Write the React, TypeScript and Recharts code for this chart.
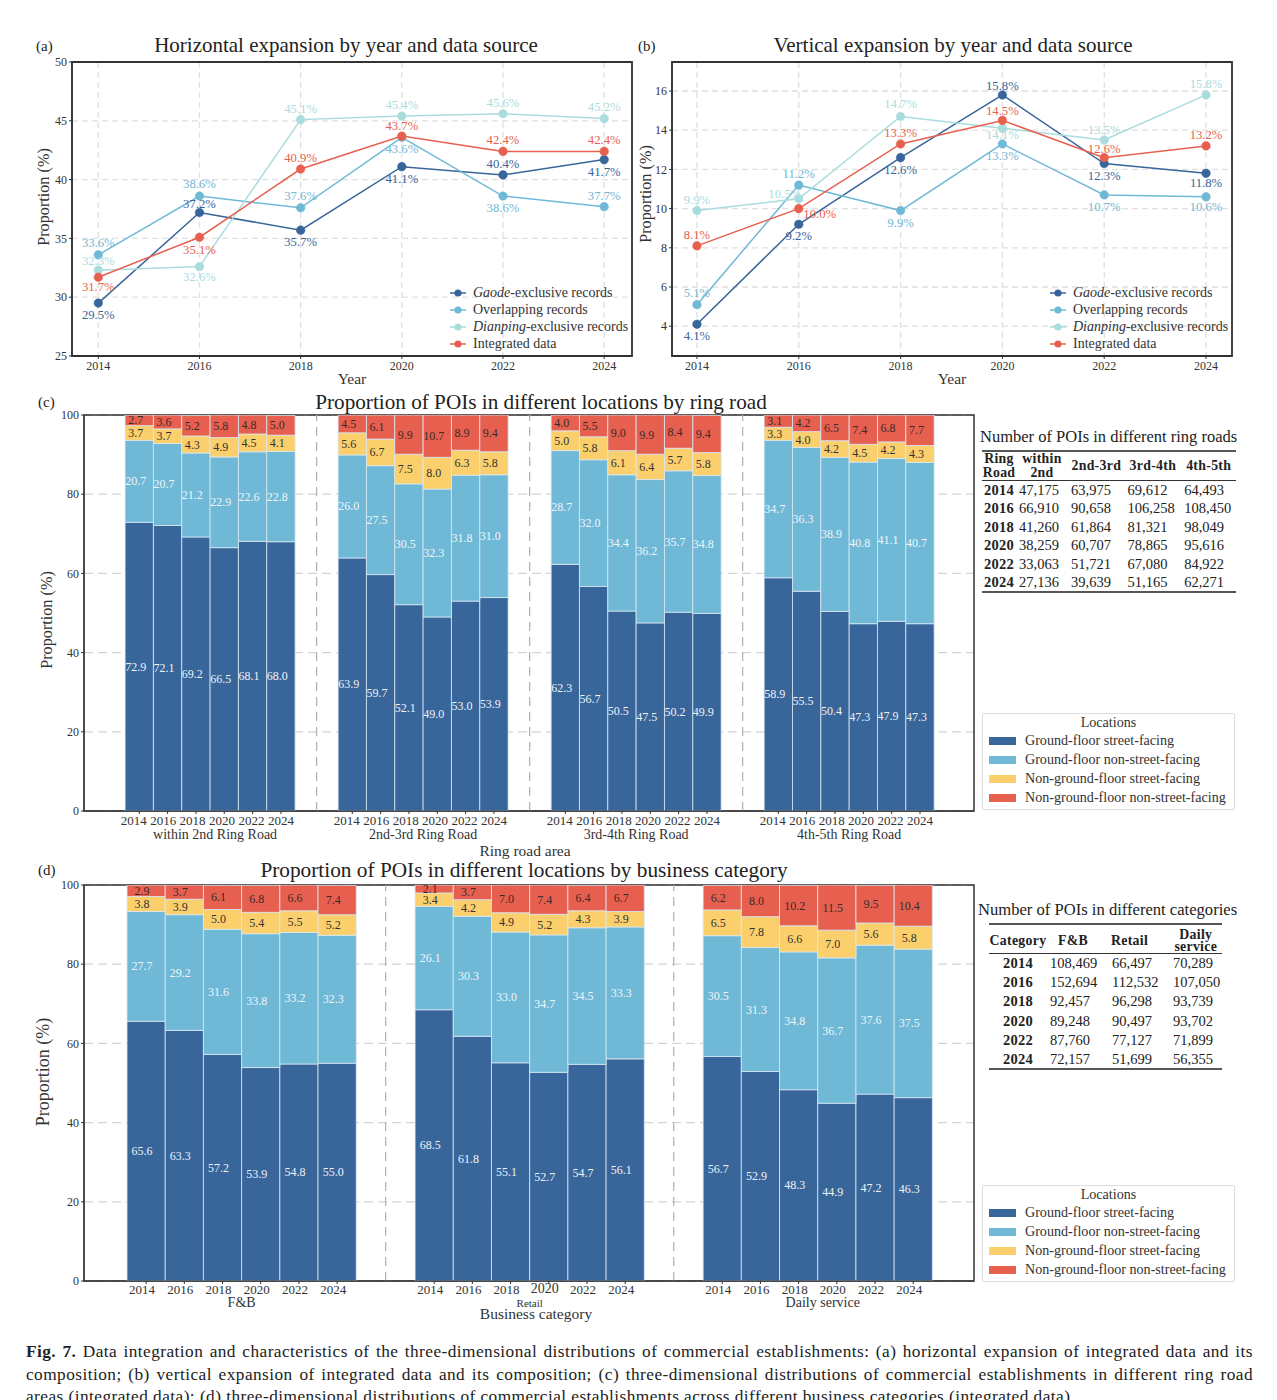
import React from 'react';
import {
  LineChart, Line, BarChart, Bar, XAxis, YAxis, CartesianGrid, Legend,
  LabelList, ReferenceLine, ReferenceArea,
} from 'recharts';

const years = [2014, 2016, 2018, 2020, 2022, 2024];

// (a) horizontal expansion
const aGaode = [29.5, 37.2, 35.7, 41.1, 40.4, 41.7];
const aOverlap = [33.6, 38.6, 37.6, 43.6, 38.6, 37.7];
const aDianping = [32.3, 32.6, 45.1, 45.4, 45.6, 45.2];
const aIntegrated = [31.7, 35.1, 40.9, 43.7, 42.4, 42.4];
const aTicks = [25, 30, 35, 40, 45, 50];

// (b) vertical expansion
const bGaode = [4.1, 9.2, 12.6, 15.8, 12.3, 11.8];
const bOverlap = [5.1, 11.2, 9.9, 13.3, 10.7, 10.6];
const bDianping = [9.9, 10.5, 14.7, 14.1, 13.5, 15.8];
const bIntegrated = [8.1, 10.0, 13.3, 14.5, 12.6, 13.2];
const bTicks = [4, 6, 8, 10, 12, 14, 16];

// (c) ring roads, one list per location type, groups in order
const ringGroups = ['within 2nd Ring Road', '2nd-3rd Ring Road', '3rd-4th Ring Road', '4th-5th Ring Road'];
const ringGroundStreet = [
  [72.9, 72.1, 69.2, 66.5, 68.1, 68.0],
  [63.9, 59.7, 52.1, 49.0, 53.0, 53.9],
  [62.3, 56.7, 50.5, 47.5, 50.2, 49.9],
  [58.9, 55.5, 50.4, 47.3, 47.9, 47.3],
];
const ringGroundNon = [
  [20.7, 20.7, 21.2, 22.9, 22.6, 22.8],
  [26.0, 27.5, 30.5, 32.3, 31.8, 31.0],
  [28.7, 32.0, 34.4, 36.2, 35.7, 34.8],
  [34.7, 36.3, 38.9, 40.8, 41.1, 40.7],
];
const ringUpperStreet = [
  [3.7, 3.7, 4.3, 4.9, 4.5, 4.1],
  [5.6, 6.7, 7.5, 8.0, 6.3, 5.8],
  [5.0, 5.8, 6.1, 6.4, 5.7, 5.8],
  [3.3, 4.0, 4.2, 4.5, 4.2, 4.3],
];
const ringUpperNon = [
  [2.7, 3.6, 5.2, 5.8, 4.8, 5.0],
  [4.5, 6.1, 9.9, 10.7, 8.9, 9.4],
  [4.0, 5.5, 9.0, 9.9, 8.4, 9.4],
  [3.1, 4.2, 6.5, 7.4, 6.8, 7.7],
];

// (d) business categories
const catGroups = ['F&B', 'Retail', 'Daily service'];
const catGroundStreet = [
  [65.6, 63.3, 57.2, 53.9, 54.8, 55.0],
  [68.5, 61.8, 55.1, 52.7, 54.7, 56.1],
  [56.7, 52.9, 48.3, 44.9, 47.2, 46.3],
];
const catGroundNon = [
  [27.7, 29.2, 31.6, 33.8, 33.2, 32.3],
  [26.1, 30.3, 33.0, 34.7, 34.5, 33.3],
  [30.5, 31.3, 34.8, 36.7, 37.6, 37.5],
];
const catUpperStreet = [
  [3.8, 3.9, 5.0, 5.4, 5.5, 5.2],
  [3.4, 4.2, 4.9, 5.2, 4.3, 3.9],
  [6.5, 7.8, 6.6, 7.0, 5.6, 5.8],
];
const catUpperNon = [
  [2.9, 3.7, 6.1, 6.8, 6.6, 7.4],
  [2.1, 3.7, 7.0, 7.4, 6.4, 6.7],
  [6.2, 8.0, 10.2, 11.5, 9.5, 10.4],
];

// side tables
const ringHead = ['Ring\nRoad', 'within\n2nd', '2nd-3rd', '3rd-4th', '4th-5th'];
const ringCounts = [
  ['47,175', '63,975', '69,612', '64,493'],
  ['66,910', '90,658', '106,258', '108,450'],
  ['41,260', '61,864', '81,321', '98,049'],
  ['38,259', '60,707', '78,865', '95,616'],
  ['33,063', '51,721', '67,080', '84,922'],
  ['27,136', '39,639', '51,165', '62,271'],
];
const catHead = ['Category', 'F&B', 'Retail', 'Daily\nservice'];
const catCounts = [
  ['108,469', '66,497', '70,289'],
  ['152,694', '112,532', '107,050'],
  ['92,457', '96,298', '93,739'],
  ['89,248', '90,497', '93,702'],
  ['87,760', '77,127', '71,899'],
  ['72,157', '51,699', '56,355'],
];

const sourceNames = ['Gaode-exclusive records', 'Overlapping records', 'Dianping-exclusive records', 'Integrated data'];
const locationNames = ['Ground-floor street-facing', 'Ground-floor non-street-facing', 'Non-ground-floor street-facing', 'Non-ground-floor non-street-facing'];

const captionLines = [
  'Data integration and characteristics of the three-dimensional distributions of commercial establishments: (a) horizontal expansion of integrated data and its',
  'composition; (b) vertical expansion of integrated data and its composition; (c) three-dimensional distributions of commercial establishments in different ring road',
  'areas (integrated data); (d) three-dimensional distributions of commercial establishments across different business categories (integrated data).',
];

const DARK = '#38659a';
const BLUE = '#6fb8d6';
const PALE = '#a9dcdd';
const RED = '#e7604f';
const YELLOW = '#fbcf6b';
const FRAME = '#333';
const FONT = '"Liberation Serif", serif';

// label placement around the markers, in pixels
const aDy = [
  [12, -9, 12, 12, -11, 12],
  [-12, -12, -12, 12, 12, -11],
  [-9, 10, -11, -11, -11, -11],
  [10, 13, -11, -10, -11, -11],
];
const bDy = [
  [12, 12, 12, -9, 12, 10],
  [-12, -11, 12, 12, 12, 10],
  [-11, -5, -12, 7, -10, -11],
  [-11, 5, -11, -9, -9, -11],
];
const bDx = [
  [0, 0, 0, 0, 0, 0],
  [0, 0, 0, 0, 0, 0],
  [0, -14, 0, 0, 0, 0],
  [0, 21, 0, 0, 0, 0],
];

function makeLineRows(s: number[][]) {
  return years.map((year, i) => ({ year, gaode: s[0][i], overlap: s[1][i], dianping: s[2][i], integrated: s[3][i] }));
}

function makeStackRows(a: number[][], b: number[][], c: number[][], d: number[][], step: number) {
  const rows: any[] = [];
  a.forEach((group, g) => {
    group.forEach((_, i) => {
      rows.push({ slot: g * step + i, year: years[i], s0: a[g][i], s1: b[g][i], s2: c[g][i], s3: d[g][i] });
    });
  });
  return rows;
}

function SourceLegend({ payload }: any) {
  return (
    <div style={{ fontFamily: FONT, fontSize: 14, color: '#333' }}>
      {(payload || []).map((p: any) => {
        const cut = p.value.indexOf('-exclusive');
        return (
          <div key={p.value} style={{ height: 17, lineHeight: '17px', whiteSpace: 'nowrap', display: 'flex', alignItems: 'center' }}>
            <svg width={23} height={10}>
              <line x1={0} x2={16} y1={5} y2={5} stroke={p.color} strokeWidth={1.5} />
              <circle cx={8} cy={5} r={3.6} fill={p.color} />
            </svg>
            {cut > 0 ? <span><i>{p.value.slice(0, cut)}</i>{p.value.slice(cut)}</span> : p.value}
          </div>
        );
      })}
    </div>
  );
}

function LocationLegend({ payload }: any) {
  return (
    <div style={{ fontFamily: FONT, fontSize: 14.1, color: '#333', border: '1px solid #ddd', borderRadius: 2, width: 253, height: 97, boxSizing: 'border-box', background: '#fff' }}>
      <div style={{ textAlign: 'center', height: 17, lineHeight: '16px' }}>Locations</div>
      {(payload || []).map((p: any) => (
        <div key={p.value} style={{ height: 19, lineHeight: '19px', whiteSpace: 'nowrap', display: 'flex', alignItems: 'center' }}>
          <span style={{ display: 'inline-block', width: 27, height: 8, background: p.color, margin: '0 9px 0 6px' }} />
          {p.value}
        </div>
      ))}
    </div>
  );
}

function pointLabel(color: string, dy: number[], dx?: number[]) {
  return (props: any) => {
    const { x, y, value, index } = props;
    return (
      <text x={x + (dx ? dx[index] : 0)} y={y + dy[index]} fill={color} fontSize={12.7} textAnchor="middle" dominantBaseline="central">
        {value.toFixed(1)}%
      </text>
    );
  };
}

function yLabel(xOff: number, yOff: number, size: number) {
  return (p: any) => {
    const x = p.viewBox.x + xOff;
    const y = p.viewBox.y + p.viewBox.height / 2 + yOff;
    return (
      <text x={x} y={y} transform={`rotate(-90 ${x} ${y})`} textAnchor="middle" dominantBaseline="central" fontSize={size} fill="#333">
        Proportion (%)
      </text>
    );
  };
}

function LinePanel({ left, width, yWidth, legendLeft, domain, xDomain, ticks, series, dy, dx, labelX, labelY }: any) {
  const rows = makeLineRows(series);
  const keys = ['gaode', 'overlap', 'dianping', 'integrated'];
  const colors = [DARK, BLUE, PALE, RED];
  return (
    <div style={{ position: 'absolute', left, top: 50 }}>
      <LineChart width={width} height={343} data={rows} margin={{ top: 12, right: 8, bottom: 0, left: 0 }}>
        <CartesianGrid stroke="#e0e0e0" strokeWidth={1.3} strokeDasharray="6 4" />
        <XAxis dataKey="year" type="number" domain={xDomain} ticks={years} interval={0} height={37} tickSize={3}
          tick={{ fontSize: 12, fill: '#333' }} stroke={FRAME}
          label={{ value: 'Year', position: 'insideBottom', offset: 9, fontSize: 15.5, fill: '#333' }} />
        <YAxis type="number" domain={domain} ticks={ticks} interval={0} width={yWidth} tickSize={3} allowDataOverflow
          tick={{ fontSize: 12, fill: '#333' }} stroke={FRAME}
          label={{ content: yLabel(labelX, labelY, 16.2) }} />
        {keys.map((k, i) => (
          <Line key={k} dataKey={k} name={sourceNames[i]} stroke={colors[i]} strokeWidth={1.5} isAnimationActive={false}
            dot={{ r: 4.3, fill: colors[i], stroke: colors[i], strokeWidth: 0.5 }}>
            <LabelList dataKey={k} content={pointLabel(colors[i], dy[i], dx ? dx[i] : undefined)} />
          </Line>
        ))}
        <ReferenceArea x1={xDomain[0]} x2={xDomain[1]} y1={domain[0]} y2={domain[1]} fill="none" stroke={FRAME} strokeWidth={1.8} ifOverflow="visible" />
        <Legend layout="horizontal" verticalAlign="middle" itemSorter={null} content={<SourceLegend />} wrapperStyle={{ left: legendLeft, top: 234, width: 190 }} />
      </LineChart>
    </div>
  );
}

function barLabel(fill: string, shift: number) {
  return (p: any) => {
    const vb = p.viewBox;
    return (
      <text x={vb.x + vb.width / 2 + shift} y={vb.y + vb.height / 2} fill={fill} fontSize={12} textAnchor="middle" dominantBaseline="central">
        {Number(p.value).toFixed(1)}
      </text>
    );
  };
}

function StackPanel({ top, height, rows, ticksX, centers, seps, domain, barSize, groups, groupFonts, groupDx, groupDy, yearShift, yearDy, labelShift, bigTick, axisName, axisOffset, axisDx, legendTop, labelX, labelY, labelSize }: any) {
  const colors = [DARK, BLUE, YELLOW, RED];
  const labelFill = ['#eef3f8', '#eef6fa', '#333', '#3a2a28'];
  const YearTick = (p: any) => {
    const i = p.index;
    const row = rows[i];
    const big = i === bigTick;
    return (
      <text x={p.x + yearShift(i % 6)} y={p.y + (big ? yearDy - 1 : yearDy)} textAnchor="middle" dominantBaseline="central" fontSize={big ? 14 : 13} fill="#333">{row.year}</text>
    );
  };
  const GroupTick = (p: any) => {
    const i = p.index;
    return (
      <text x={p.x + groupDx[i]} y={p.y + groupDy} textAnchor="middle" fontSize={groupFonts[i]} fill="#333">{groups[i]}</text>
    );
  };
  return (
    <div style={{ position: 'absolute', left: 30, top }}>
      <BarChart width={1220} height={height} data={rows} margin={{ top: 10, right: 276, bottom: 0, left: 0 }}>
        <CartesianGrid stroke="#d4d4d4" strokeWidth={1.3} strokeDasharray="9 5" vertical={false} />
        <XAxis dataKey="slot" type="number" domain={domain} ticks={ticksX} interval={0} height={16} tickSize={3} tickMargin={1}
          allowDataOverflow tick={YearTick} stroke={FRAME} />
        <XAxis xAxisId="group" dataKey="slot" type="number" domain={domain} ticks={centers} interval={0} height={34} tickLine={false} axisLine={false}
          allowDataOverflow tick={GroupTick}
          label={{ value: axisName, position: 'insideBottom', offset: axisOffset, dx: axisDx, fontSize: 15.5, fill: '#333' }} />
        <YAxis type="number" domain={[0, 100]} ticks={[0, 20, 40, 60, 80, 100]} interval={0} width={54} tickSize={3} allowDataOverflow
          tick={{ fontSize: 12, fill: '#333' }} stroke={FRAME}
          label={{ content: yLabel(labelX, labelY, labelSize) }} />
        {seps.map((s: number) => (
          <ReferenceLine key={s} x={s} stroke="#b0b0b0" strokeWidth={1.2} strokeDasharray="9 6" />
        ))}
        {colors.map((c, i) => (
          <Bar key={c} dataKey={'s' + i} name={locationNames[i]} stackId="a" fill={c} barSize={barSize} stroke="#d8e8f2" strokeWidth={0.8} isAnimationActive={false}>
            <LabelList dataKey={'s' + i} content={barLabel(labelFill[i], labelShift)} />
          </Bar>
        ))}
        <ReferenceArea x1={domain[0]} x2={domain[1]} y1={0} y2={100} fill="none" stroke={FRAME} strokeWidth={1.5} ifOverflow="visible" />
        <Legend layout="horizontal" verticalAlign="middle" itemSorter={null} content={<LocationLegend />} wrapperStyle={{ left: 952, top: legendTop, width: 254 }} />
      </BarChart>
    </div>
  );
}

function PoiTable({ left, top, cols, head, rows, headH, rowH, headPad, headLine, headTop }: any) {
  return (
    <table style={{ position: 'absolute', left, top, borderCollapse: 'collapse', tableLayout: 'fixed', width: cols.reduce((a: number, b: number) => a + b, 0), fontSize: 14.5, color: '#222', borderTop: '2px solid #555', borderBottom: '2px solid #555' }}>
      <colgroup>{cols.map((c: number, i: number) => <col key={i} style={{ width: c }} />)}</colgroup>
      <thead>
        <tr style={{ height: headH, borderBottom: '1.5px solid #333' }}>
          {head.map((h: string, i: number) => (
            <th key={h} style={{ padding: `${headTop}px ${headPad[i]}px 0 0`, lineHeight: headLine + 'px', fontSize: 13.8, letterSpacing: 0.3, whiteSpace: 'pre-line', verticalAlign: 'middle', textAlign: 'center' }}>{h}</th>
          ))}
        </tr>
      </thead>
      <tbody>
        {rows.map((r: string[], i: number) => (
          <tr key={years[i]} style={{ height: rowH }}>
            <td style={{ padding: 0, fontWeight: 'bold', textAlign: 'center', lineHeight: '14px', letterSpacing: 0.2 }}>{years[i]}</td>
            {r.map((v, j) => <td key={j} style={{ padding: '0 0 0 3px', lineHeight: '14px' }}>{v}</td>)}
          </tr>
        ))}
      </tbody>
    </table>
  );
}

function Txt({ x, y, size, center, children }: any) {
  return (
    <div style={{ position: 'absolute', left: x, top: y, fontSize: size, lineHeight: '24px', height: 24, marginTop: -12, whiteSpace: 'nowrap', color: '#222', transform: center ? 'translateX(-50%)' : undefined }}>
      {children}
    </div>
  );
}

const ringStep = 7.518;
const catStep = 7.54;
const ringRows = makeStackRows(ringGroundStreet, ringGroundNon, ringUpperStreet, ringUpperNon, ringStep);
const catRows = makeStackRows(catGroundStreet, catGroundNon, catUpperStreet, catUpperNon, catStep);

export default function App() {
  return (
    <div style={{ position: 'absolute', left: 0, top: 0, width: 1277, height: 1400, overflow: 'hidden', background: '#fff', fontFamily: FONT }}>
      <Txt x={36} y={46} size={15}>(a)</Txt>
      <Txt x={346} y={45} size={21} center>Horizontal expansion by year and data source</Txt>
      <Txt x={638} y={46} size={15}>(b)</Txt>
      <Txt x={953} y={45} size={21} center>Vertical expansion by year and data source</Txt>
      <Txt x={38} y={402} size={15}>(c)</Txt>
      <Txt x={541} y={402} size={21.2} center>Proportion of POIs in different locations by ring road</Txt>
      <Txt x={38} y={870} size={15}>(d)</Txt>
      <Txt x={524} y={870} size={21.3} center>Proportion of POIs in different locations by business category</Txt>

      <LinePanel left={30} width={610} yWidth={42} legendLeft={420} domain={[25, 50]} xDomain={[2013.48, 2024.55]} ticks={aTicks}
        series={[aGaode, aOverlap, aDianping, aIntegrated]} dy={aDy} labelX={14} labelY={-12} />
      <LinePanel left={634} width={606} yWidth={38} legendLeft={416} domain={[2.48, 17.48]} xDomain={[2013.51, 2024.51]} ticks={bTicks}
        series={[bGaode, bOverlap, bDianping, bIntegrated]} dy={bDy} dx={bDx} labelX={12} labelY={-15} />

      <StackPanel top={405} height={456} rows={ringRows} barSize={28.33} domain={[-1.95, 29.46]} axisName="Ring road area" axisOffset={5} axisDx={-4}
        ticksX={ringRows.map((r: any) => r.slot)}
        centers={ringGroups.map((_, g) => g * ringStep + 2.5)}
        seps={[0, 1, 2].map((g) => g * ringStep + 6.26)}
        groups={ringGroups} groupFonts={[14, 14, 14, 14]} groupDx={[5, 0, 0, 0]} groupDy={4}
        yearShift={(i: number) => -5.5 + 1.1 * i} yearDy={5} labelShift={-3.6} bigTick={-1}
        legendTop={308} labelX={17} labelY={7} labelSize={16.2} />
      <StackPanel top={875} height={456} rows={catRows} barSize={38.2} domain={[-1.626, 21.67]} axisName="Business category" axisOffset={12} axisDx={7}
        ticksX={catRows.map((r: any) => r.slot)}
        centers={catGroups.map((_, g) => g * catStep + 2.5)}
        seps={[0, 1].map((g) => g * catStep + 6.27)}
        groups={catGroups} groupFonts={[14, 11, 14]} groupDx={[0, 0, 5]} groupDy={2}
        yearShift={() => -4} yearDy={4} labelShift={-4} bigTick={9}
        legendTop={310} labelX={13} labelY={-11} labelSize={18} />

      <Txt x={980} y={437} size={16.5}>Number of POIs in different ring roads</Txt>
      <PoiTable left={982} top={450} cols={[34, 52, 56.6, 56.6, 55]} head={ringHead} rows={ringCounts} headH={28} rowH={18.5} headPad={[0, 0, 0, 0, 0]} headLine={14} headTop={0} />
      <Txt x={978} y={910} size={16.6}>Number of POIs in different categories</Txt>
      <PoiTable left={989} top={923} cols={[58, 62, 61, 51.5]} head={catHead} rows={catCounts} headH={28} rowH={19.2} headPad={[0, 10, 20, 0]} headLine={12} headTop={4} />

      <div style={{ position: 'absolute', left: 26, top: 1341, width: 1227, fontSize: 17.3, lineHeight: '22.6px', color: '#222', letterSpacing: 0.45 }}>
        {captionLines.map((line, i) => (
          <div key={i} style={{ textAlign: 'justify', textAlignLast: i < 2 ? 'justify' : 'left' }}>
            {i === 0 ? <b>Fig. 7. </b> : null}{line}
          </div>
        ))}
      </div>
    </div>
  );
}
